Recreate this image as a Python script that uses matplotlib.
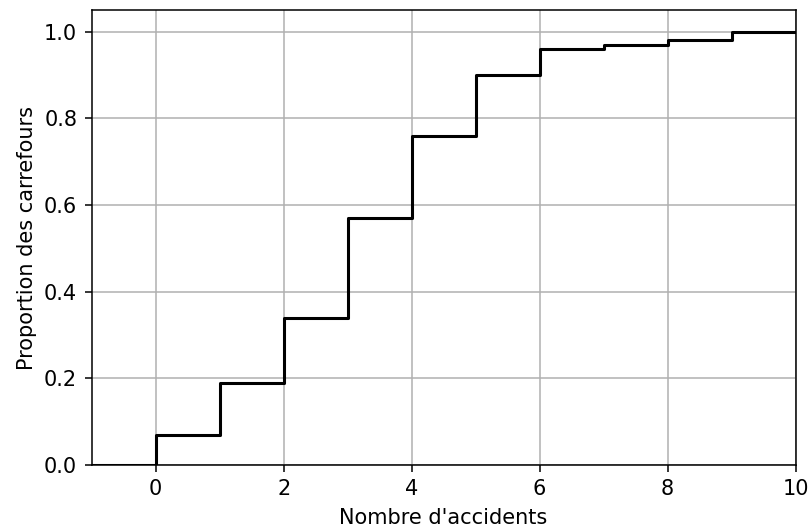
import matplotlib
matplotlib.use('Agg')
import matplotlib.pyplot as plt

# accident counts and cumulative proportion of crossroads
accidents = [-1, 0, 1, 2, 3, 4, 5, 6, 7, 8, 9, 10]
proportion = [0.0, 0.07, 0.19, 0.34, 0.57, 0.76, 0.90, 0.96, 0.97, 0.98, 1.0, 1.0]

fig = plt.figure(figsize=(8.11, 5.29), dpi=100)
ax = fig.add_axes([0.113, 0.121, 0.868, 0.860])
ax.step(accidents, proportion, where='post', color='black', linewidth=2.2)
ax.set_xlim(-1, 10)
ax.set_ylim(0, 1.05)
ax.set_xticks([0, 2, 4, 6, 8, 10])
ax.grid(True, color='#b0b0b0', linewidth=1.1)
ax.set_axisbelow(True)
for s in ax.spines.values():
    s.set_linewidth(1.1)
ax.tick_params(labelsize=15, length=4.9, width=1.1, pad=5.5)
ax.set_xlabel("Nombre d'accidents", fontsize=15, labelpad=6)
ax.set_ylabel('Proportion des carrefours', fontsize=15, labelpad=5)
fig.savefig('out.png', dpi=100)
